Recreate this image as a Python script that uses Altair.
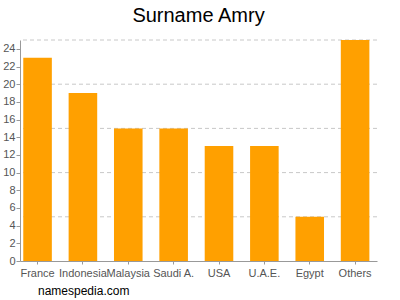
import altair as alt
import pandas as pd

countries = ["France", "Indonesia", "Malaysia", "Saudi A.", "USA", "U.A.E.", "Egypt", "Others"]
counts = [23, 19, 15, 15, 13, 13, 5, 25]
grid_values = [5, 10, 15, 20, 25]
y_tick_values = list(range(0, 25, 2))

df = pd.DataFrame({"country": countries, "count": counts})
grid_df = pd.DataFrame({"g": grid_values})

FONT = "Liberation Sans"

y_scale = alt.Scale(domain=[0, 25], nice=False)
y_axis = alt.Axis(
    title=None,
    values=y_tick_values,
    grid=False,
    labelColor="#555555",
    labelFontSize=11,
    labelFont=FONT,
    domainColor="#999999",
    tickColor="#999999",
    tickSize=4,
    labelPadding=1,
)

grid = alt.Chart(grid_df).mark_rule(
    color="#c8c8c8", strokeDash=[4, 3], strokeWidth=1
).encode(y=alt.Y("g:Q", scale=y_scale, axis=y_axis))

bars = alt.Chart(df).mark_bar(color="#ffa000").encode(
    x=alt.X(
        "country:N",
        sort=countries,
        scale=alt.Scale(paddingInner=0.37, paddingOuter=0.12, align=0.3),
        axis=alt.Axis(
            title=None,
            labelAngle=0,
            labelColor="#555555",
            labelFontSize=11,
            labelFont=FONT,
            domainColor="#999999",
            tickColor="#999999",
            tickSize=3,
            labelPadding=3,
        ),
    ),
    y=alt.Y("count:Q", scale=y_scale, axis=y_axis),
)

footer = alt.Chart(pd.DataFrame({"t": ["namespedia.com"]})).mark_text(
    align="left", baseline="middle", fontSize=12, font=FONT, color="#000000"
).encode(text="t:N", x=alt.value(18), y=alt.value(251))

chart = alt.layer(grid, bars, footer).properties(
    width=357,
    height=221,
    padding={"left": 20, "top": 40, "right": 23, "bottom": 39},
    autosize=alt.AutoSizeParams(type="none"),
    title=alt.TitleParams(
        "Surname Amry", fontSize=20, font=FONT, fontWeight="normal",
        color="#000000", anchor="middle", offset=14,
    ),
).configure_view(stroke=None)

chart.save("out.html", embed_options={"renderer": "svg", "actions": False})
